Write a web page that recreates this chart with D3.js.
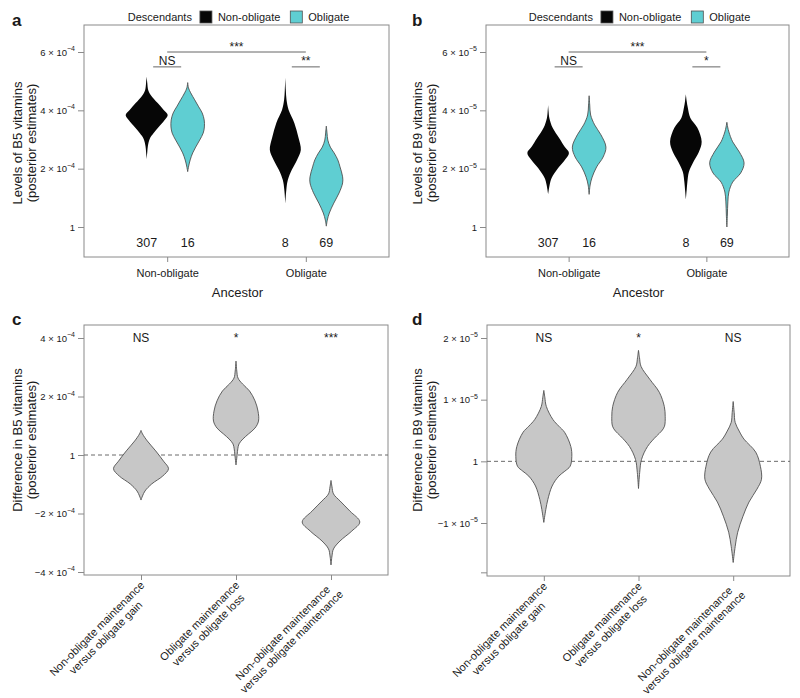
<!DOCTYPE html>
<html>
<head>
<meta charset="utf-8">
<script src="https://cdn.jsdelivr.net/npm/d3@7"></script>
<style>
  body { margin: 0; background: #fff; }
  svg { display: block; }
  text { font-family: "Liberation Sans", Arial, sans-serif; fill: #1a1a1a; }
</style>
</head>
<body>
<svg id="chart" width="800" height="698"></svg>
<script>
// ---------------- DATA ----------------
const ancestors = ["Non-obligate", "Obligate"];
const descendants = ["Non-obligate", "Obligate"];
const counts = [307, 16, 8, 69]; // order: (anc NO, desc NO), (anc NO, desc O), (anc O, desc NO), (anc O, desc O)
const comparisons = [
  ["Non-obligate maintenance", "versus obligate gain"],
  ["Obligate maintenance", "versus obligate loss"],
  ["Non-obligate maintenance", "versus obligate maintenance"]
];

// y-axis ticks
const ticksA = [0, 2e-4, 4e-4, 6e-4];
const tickLabelsA = ["1", "2 × 10^−4", "4 × 10^−4", "6 × 10^−4"];
const ticksB = [0, 2e-5, 4e-5, 6e-5];
const tickLabelsB = ["1", "2 × 10^−5", "4 × 10^−5", "6 × 10^−5"];
const ticksC = [-4e-4, -2e-4, 0, 2e-4, 4e-4];
const tickLabelsC = ["−4 × 10^−4", "−2 × 10^−4", "1", "2 × 10^−4", "4 × 10^−4"];
const ticksD = [-1.8e-5, -1e-5, 0, 1e-5, 2e-5];
const tickLabelsD = ["", "−1 × 10^−5", "1", "1 × 10^−5", "2 × 10^−5"];

// violin profiles: [value, relative density]
const b5_NO_NO = [[5.16e-4,0],[4.94e-4,0.6],[4.70e-4,1.5],[4.53e-4,4],[4.25e-4,11],[4.01e-4,17],[3.84e-4,21],[3.67e-4,18],[3.43e-4,12],[3.22e-4,7],[3.02e-4,3],[2.78e-4,1.2],[2.57e-4,0.6],[2.32e-4,0]];
const b5_NO_O = [[4.95e-4,0],[4.77e-4,0.8],[4.60e-4,3],[4.36e-4,7],[4.12e-4,11],[3.91e-4,14.5],[3.67e-4,16.5],[3.43e-4,16.7],[3.22e-4,15.5],[2.98e-4,12],[2.74e-4,8],[2.54e-4,5],[2.30e-4,2.5],[2.09e-4,1],[1.90e-4,0]];
const b5_O_NO = [[5.13e-4,0],[4.70e-4,0.5],[4.36e-4,1.2],[4.01e-4,3.3],[3.57e-4,9],[3.09e-4,13],[2.64e-4,15.5],[2.30e-4,11.7],[1.96e-4,6.5],[1.61e-4,2.5],[1.27e-4,1],[0.81e-4,0]];
const b5_O_O = [[3.46e-4,0],[3.22e-4,0.7],[2.98e-4,1.5],[2.74e-4,4],[2.54e-4,7.8],[2.30e-4,11.5],[2.06e-4,13.7],[1.72e-4,16.3],[1.51e-4,16.3],[1.17e-4,12.8],[0.82e-4,7.5],[0.48e-4,3],[0.24e-4,1],[0.03e-4,0]];

const b9_NO_NO = [[4.18e-5,0],[3.94e-5,0.5],[3.74e-5,1.2],[3.40e-5,4.5],[3.05e-5,11],[2.74e-5,16.7],[2.54e-5,20.8],[2.30e-5,16.7],[2.02e-5,10],[1.68e-5,3.5],[1.44e-5,1.5],[1.12e-5,0]];
const b9_NO_O = [[4.50e-5,0],[4.18e-5,0.6],[3.84e-5,1.5],[3.50e-5,5.5],[3.16e-5,11.8],[2.74e-5,16.8],[2.40e-5,14],[2.06e-5,7.5],[1.71e-5,3],[1.44e-5,1],[1.12e-5,0]];
const b9_O_NO = [[4.55e-5,0],[4.32e-5,0.8],[4.08e-5,2],[3.74e-5,4.5],[3.40e-5,11.5],[2.92e-5,15.8],[2.57e-5,13],[2.23e-5,7.5],[1.89e-5,3],[1.54e-5,1.5],[1.27e-5,0.8],[0.93e-5,0]];
const b9_O_O = [[3.59e-5,0],[3.43e-5,0.8],[3.26e-5,2],[2.92e-5,5.8],[2.57e-5,12.5],[2.20e-5,17.2],[1.85e-5,13.8],[1.54e-5,5.8],[1.20e-5,2],[0.86e-5,1],[0.41e-5,0.5],[0,0]];

const diffB5_1 = [[0.84e-4,0],[0.72e-4,1.5],[0.48e-4,6.3],[0.14e-4,14.7],[-0.21e-4,22.5],[-0.47e-4,27.5],[-0.72e-4,21.7],[-0.99e-4,10.7],[-1.23e-4,4],[-1.40e-4,1.5],[-1.54e-4,0]];
const diffB5_2 = [[3.21e-4,0],[2.87e-4,0.8],[2.63e-4,2],[2.43e-4,6.5],[2.19e-4,13.5],[1.85e-4,19],[1.50e-4,22],[1.16e-4,22.5],[0.92e-4,19],[0.72e-4,12.5],[0.55e-4,7],[0.38e-4,3],[0.21e-4,1.8],[0.03e-4,1.2],[-0.34e-4,0]];
const diffB5_3 = [[-0.87e-4,0],[-1.09e-4,1],[-1.33e-4,2.5],[-1.57e-4,9],[-1.92e-4,19],[-2.29e-4,28.8],[-2.60e-4,20.8],[-2.94e-4,9],[-3.21e-4,2.5],[-3.45e-4,1],[-3.76e-4,0]];

const diffB9_1 = [[1.15e-5,0],[1.04e-5,1],[0.89e-5,2.5],[0.68e-5,9],[0.57e-5,15],[0.47e-5,20.8],[0.24e-5,27],[0.08e-5,28],[-0.08e-5,26.3],[-0.16e-5,21],[-0.24e-5,15],[-0.40e-5,8.3],[-0.62e-5,4],[-0.78e-5,2],[-0.99e-5,0]];
const diffB9_2 = [[1.80e-5,0],[1.68e-5,1],[1.54e-5,2.5],[1.33e-5,11.3],[1.12e-5,20.8],[0.89e-5,25.8],[0.73e-5,26.7],[0.57e-5,26],[0.49e-5,23],[0.41e-5,18],[0.24e-5,9],[0.03e-5,3],[-0.18e-5,1.2],[-0.44e-5,0]];
const diffB9_3 = [[0.97e-5,0],[0.79e-5,1],[0.63e-5,2],[0.49e-5,6],[0.36e-5,10.8],[0.15e-5,22.5],[-0.08e-5,27.2],[-0.29e-5,28.3],[-0.45e-5,23.8],[-0.66e-5,15.8],[-0.89e-5,9.8],[-1.15e-5,4.5],[-1.38e-5,2],[-1.64e-5,0]];

const sigTopA = ["***", "NS", "**"];
const sigTopB = ["***", "NS", "*"];
const sigC = ["NS", "*", "***"];
const sigD = ["NS", "*", "NS"];

// ---------------- STYLE ----------------
const colBlack = "#060606";
const colCyan = "#5fced2";
const colGrey = "#c7c7c7";
const colStroke = "#505050";
const colFrame = "#8a8a8a";

const svg = d3.select("#chart");

function tickLabel(sel, s) {
  sel.text(null);
  if (!s) return;
  const parts = s.split("^");
  sel.append("tspan").text(parts[0]);
  if (parts[1]) sel.append("tspan").attr("dy", -4.5).attr("font-size", 7).text(parts[1]);
}

function frame(g, L, T, R, B) {
  g.append("rect").attr("x", L).attr("y", T).attr("width", R - L).attr("height", B - T)
    .attr("fill", "none").attr("stroke", colFrame).attr("stroke-width", 1);
}

function yAxis(g, y, L, ticks, labels) {
  const ax = g.append("g").attr("transform", `translate(${L},0)`)
    .call(d3.axisLeft(y).tickValues(ticks).tickSize(6).tickPadding(3));
  ax.select(".domain").remove();
  ax.selectAll(".tick line").attr("stroke", colFrame);
  ax.selectAll(".tick text").attr("font-size", 9.5).attr("fill", "#1a1a1a")
    .each(function(d, i) { tickLabel(d3.select(this), labels[i]); });
}

function yTitle(g, x1, yc, l1, l2) {
  const t = g.append("g").attr("transform", `translate(${x1},${yc}) rotate(-90)`);
  t.append("text").attr("text-anchor", "middle").attr("font-size", 13).attr("y", 0).text(l1);
  t.append("text").attr("text-anchor", "middle").attr("font-size", 13).attr("y", 14).text(l2);
}

function violin(g, data, cx, y, w, fill, stroke) {
  const area = d3.area()
    .x0(d => cx - w(d[1])).x1(d => cx + w(d[1]))
    .y(d => y(d[0]))
    .curve(d3.curveCatmullRom);
  g.append("path").attr("d", area(data)).attr("fill", fill)
    .attr("stroke", stroke || "none").attr("stroke-width", stroke ? 0.9 : 0);
}

const widthScale = d3.scaleLinear().domain([0, 30]).range([0, 30]);

// ---------------- TOP PANELS ----------------
function topPanel(opt) {
  const g = svg.append("g");
  const {L, T, R, B} = opt;
  const x = d3.scalePoint().domain(ancestors).range([L, R]).padding(0.6);
  const dodge = d3.scaleBand().domain(descendants).range([-41, 41]);
  const y = d3.scaleLinear().domain(opt.yDomain).range([227, 52]);

  frame(g, L, T, R, B);
  yAxis(g, y, L, opt.ticks, opt.tickLabels);

  // x axis
  const xa = g.append("g").attr("transform", `translate(0,${B})`)
    .call(d3.axisBottom(x).tickSize(5).tickPadding(7));
  xa.select(".domain").remove();
  xa.selectAll(".tick line").attr("stroke", colFrame);
  xa.selectAll(".tick text").attr("font-size", 11).attr("fill", "#1a1a1a");
  g.append("text").attr("x", (L + R) / 2 + 1).attr("y", 297).attr("text-anchor", "middle")
    .attr("font-size", 13).text("Ancestor");

  yTitle(g, opt.titleX, 143, opt.title, "(posterior estimates)");

  // violins
  const combos = [];
  ancestors.forEach(a => descendants.forEach(d => combos.push([a, d])));
  combos.forEach((c, i) => {
    const cx = x(c[0]) + dodge(c[1]) + dodge.bandwidth() / 2;
    const isO = c[1] === "Obligate";
    violin(g, opt.violins[i], cx, y, widthScale, isO ? colCyan : colBlack, isO ? colStroke : null);
    g.append("text").attr("x", cx).attr("y", 247).attr("text-anchor", "middle")
      .attr("font-size", 12.5).text(counts[i]);
  });

  // significance
  const yTop = y(opt.sigY[0]), ySub = y(opt.sigY[1]);
  const line = (x1, x2, yy) => g.append("line").attr("x1", x1).attr("x2", x2)
    .attr("y1", yy).attr("y2", yy).attr("stroke", "#666").attr("stroke-width", 1);
  line(x(ancestors[0]), x(ancestors[1]), yTop);
  g.append("text").attr("x", (x(ancestors[0]) + x(ancestors[1])) / 2).attr("y", yTop - 1)
    .attr("text-anchor", "middle").attr("font-size", 12).text(opt.sig[0]);
  ancestors.forEach((a, i) => {
    line(x(a) - 14, x(a) + 14, ySub);
    g.append("text").attr("x", x(a)).attr("y", ySub - 1.5)
      .attr("text-anchor", "middle").attr("font-size", 12).text(opt.sig[i + 1]);
  });

  // legend
  const lg = g.append("g").attr("transform", `translate(0,17)`);
  let cur = 0;
  const t0 = lg.append("text").attr("x", cur).attr("y", 4).attr("font-size", 11).text("Descendants");
  cur += t0.node().getComputedTextLength() + 8;
  descendants.forEach((d, i) => {
    lg.append("rect").attr("x", cur).attr("y", -6).attr("width", 12).attr("height", 12)
      .attr("fill", i === 0 ? colBlack : colCyan).attr("stroke", colStroke).attr("stroke-width", 0.8);
    cur += 12 + 6;
    const t = lg.append("text").attr("x", cur).attr("y", 4).attr("font-size", 11).text(d);
    cur += t.node().getComputedTextLength() + 10;
  });
  const totalW = cur - 10;
  lg.attr("transform", `translate(${(L + R) / 2 + 2 - totalW / 2},17)`);

  // panel letter
  g.append("text").attr("x", opt.letterX).attr("y", 26).attr("font-size", 17)
    .attr("font-weight", "bold").attr("fill", "#000").text(opt.letter);
}

topPanel({L: 84, T: 25, R: 389, B: 257, yDomain: [0, 6e-4], ticks: ticksA, tickLabels: tickLabelsA,
  violins: [b5_NO_NO, b5_NO_O, b5_O_NO, b5_O_O], sig: sigTopA, sigY: [6e-4, 5.49e-4],
  title: "Levels of B5 vitamins", titleX: 22, letter: "a", letterX: 12});
topPanel({L: 486, T: 25, R: 789, B: 257, yDomain: [0, 6e-5], ticks: ticksB, tickLabels: tickLabelsB,
  violins: [b9_NO_NO, b9_NO_O, b9_O_NO, b9_O_O], sig: sigTopB, sigY: [6e-5, 5.49e-5],
  title: "Levels of B9 vitamins", titleX: 422, letter: "b", letterX: 412});

// ---------------- BOTTOM PANELS ----------------
function bottomPanel(opt) {
  const g = svg.append("g");
  const {L, T, R, B} = opt;
  const labels = comparisons.map(c => c.join(" "));
  const x = d3.scalePoint().domain(labels).range([L, R]).padding(0.6);
  const y = d3.scaleLinear().domain(opt.yDomain).range(opt.yRange);

  frame(g, L, T, R, B);
  yAxis(g, y, L, opt.ticks, opt.tickLabels);

  // zero line
  g.append("line").attr("x1", L).attr("x2", R).attr("y1", y(0)).attr("y2", y(0))
    .attr("stroke", "#6a6a6a").attr("stroke-width", 1).attr("stroke-dasharray", "4,3");

  // x axis ticks
  const xa = g.append("g").attr("transform", `translate(0,${B})`)
    .call(d3.axisBottom(x).tickSize(5).tickFormat(""));
  xa.select(".domain").remove();
  xa.selectAll(".tick line").attr("stroke", colFrame);

  // rotated two-line labels, lines centred within block, block right-aligned to tick
  comparisons.forEach((c, i) => {
    const lg = g.append("g").attr("transform", `translate(${x(labels[i]) + 4},${B + 11}) rotate(-45)`);
    const ts = c.map((line, j) => lg.append("text").attr("font-size", 11)
      .attr("text-anchor", "middle").attr("y", j * 12.5).text(line));
    const W = d3.max(ts, t => t.node().getComputedTextLength());
    ts.forEach(t => t.attr("x", -W / 2));
  });

  // violins + significance
  opt.violins.forEach((v, i) => {
    const cx = x(labels[i]);
    violin(g, v, cx, y, widthScale, colGrey, colStroke);
    g.append("text").attr("x", cx).attr("y", opt.sigYpx).attr("text-anchor", "middle")
      .attr("font-size", 12).text(opt.sig[i]);
  });

  yTitle(g, opt.titleX, 440, opt.title, "(posterior estimates)");

  g.append("text").attr("x", opt.letterX).attr("y", 325).attr("font-size", 17)
    .attr("font-weight", "bold").attr("fill", "#000").text(opt.letter);
}

bottomPanel({L: 84, T: 325, R: 388, B: 575, yDomain: [-4e-4, 4e-4], yRange: [572, 338],
  ticks: ticksC, tickLabels: tickLabelsC, violins: [diffB5_1, diffB5_2, diffB5_3], sig: sigC, sigYpx: 342,
  title: "Difference in B5 vitamins", titleX: 22, letter: "c", letterX: 12});
bottomPanel({L: 487, T: 325, R: 790, B: 576, yDomain: [-1e-5, 2e-5], yRange: [523, 338],
  ticks: ticksD, tickLabels: tickLabelsD, violins: [diffB9_1, diffB9_2, diffB9_3], sig: sigD, sigYpx: 342,
  title: "Difference in B9 vitamins", titleX: 422, letter: "d", letterX: 412});
</script>
</body>
</html>
